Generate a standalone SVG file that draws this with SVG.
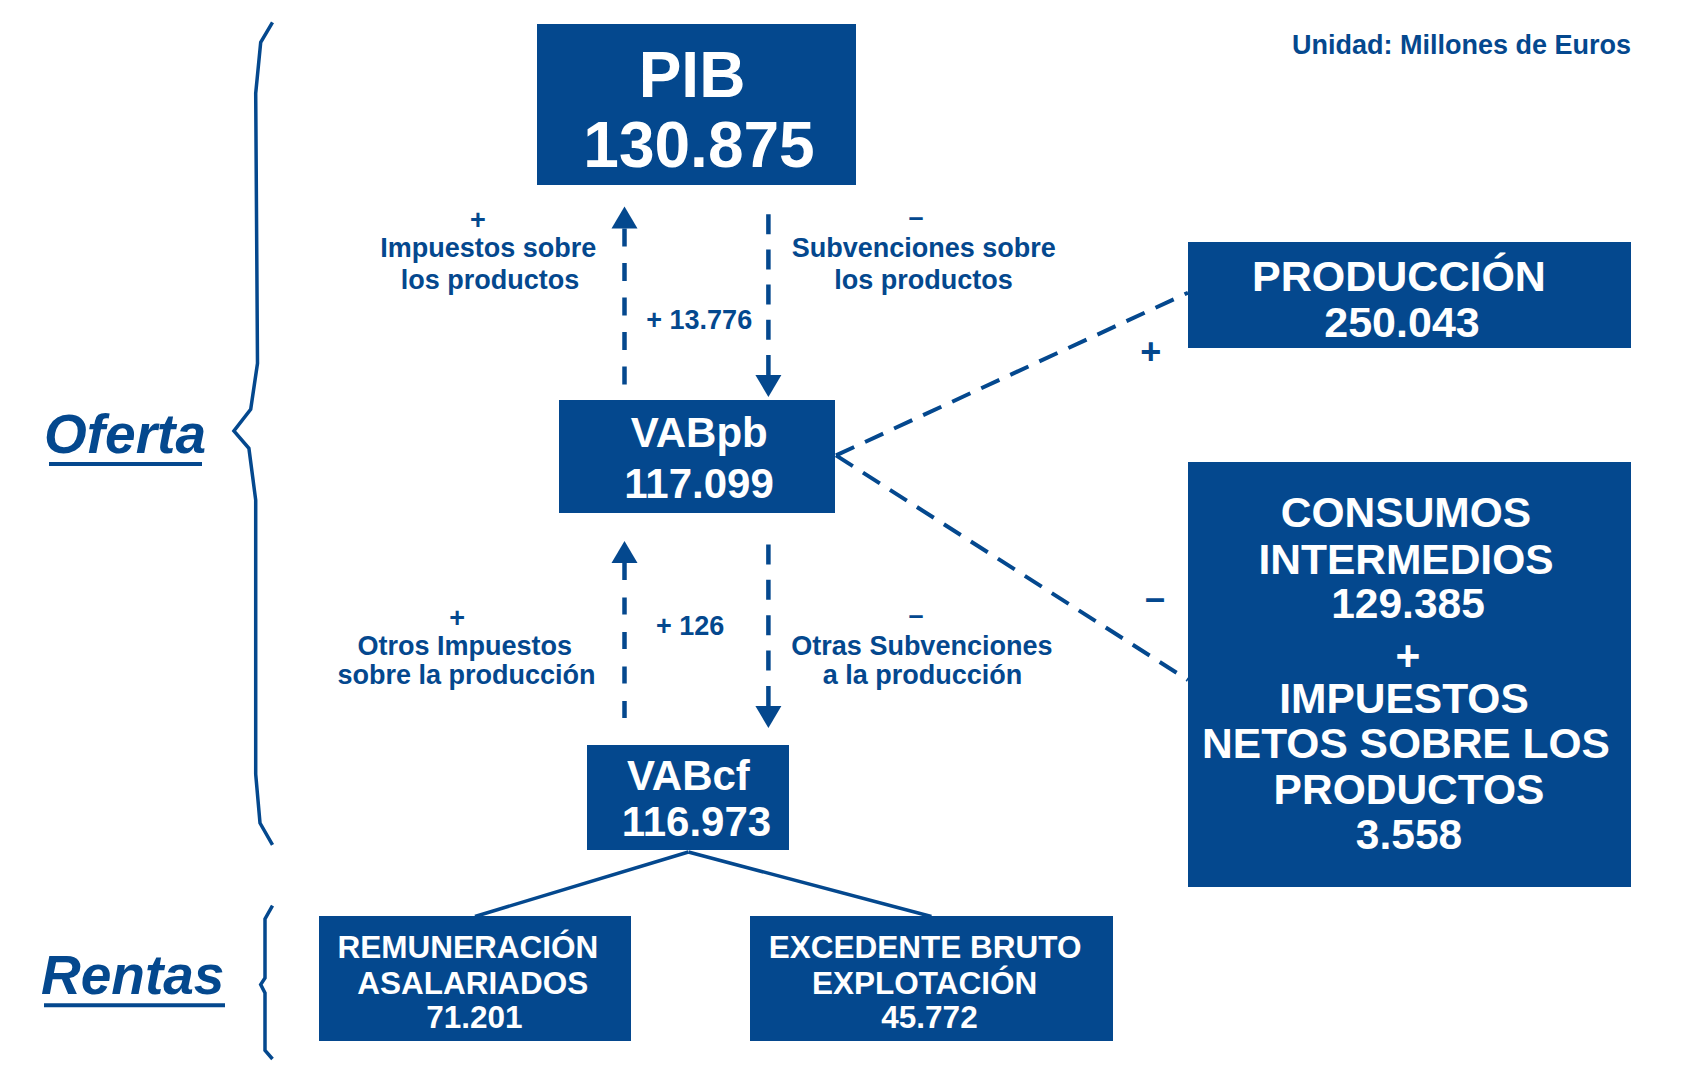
<svg xmlns="http://www.w3.org/2000/svg" width="1681" height="1089" viewBox="0 0 1681 1089">
<style>
.box{fill:#04488e}
.nt{font-family:"Liberation Sans",Arial,Helvetica,sans-serif;font-weight:bold;fill:#fff;text-anchor:middle}
.lbl{font-family:"Liberation Sans",Arial,Helvetica,sans-serif;font-weight:bold;fill:#04488e;text-anchor:middle;font-size:27px}
.big{font-family:"Liberation Sans",Arial,Helvetica,sans-serif;font-weight:bold;font-style:italic;fill:#04488e;font-size:55px}
.dash{fill:none;stroke:#04488e;stroke-width:4.5}
.diag{fill:none;stroke:#04488e;stroke-width:4;stroke-dasharray:20 12}
.solid{fill:none;stroke:#04488e;stroke-width:3.5}
.brace{fill:none;stroke:#04488e;stroke-width:3.5;stroke-linejoin:miter}
.ul{stroke:#04488e;stroke-width:4}
</style>
<defs>
<marker id="ah" markerUnits="userSpaceOnUse" viewBox="0 -15 24 30" markerWidth="24" markerHeight="30" refX="0" refY="0" orient="auto-start-reverse">
<path d="M0,-13 L22,0 L0,13 z" fill="#04488e"/>
</marker>
</defs>
<rect width="1681" height="1089" fill="#fff"/>

<text class="lbl" x="1631" y="54" style="text-anchor:end">Unidad: Millones de Euros</text>

<g id="braces">
<path class="brace" d="M272.5,22.3 L260.7,42.3 L255.7,93.3 L257.5,363.3 L250.7,409.3 L233.9,431 L248.9,448.3 L255.7,500 L255.7,774.2 L260,823 L272.5,844.9"/>
<path class="brace" d="M272.5,905.7 L265,918.9 L265,978 L260.7,984.5 L265,993 L265,1050.3 L272.5,1059"/>
<text class="big" x="44" y="453">Oferta</text>
<line class="ul" x1="49" y1="464" x2="202" y2="464"/>
<text class="big" x="41" y="994">Rentas</text>
<line class="ul" x1="44" y1="1005.3" x2="225" y2="1005.3"/>
</g>

<g id="connectors">
<path class="dash" d="M624.5,228.6 L624.5,384.6" stroke-dasharray="18 16.5" marker-start="url(#ah)"/>
<path class="dash" d="M768.4,375 L768.4,214.3" stroke-dasharray="20 15.2" marker-start="url(#ah)"/>
<path class="dash" d="M624.5,563 L624.5,719.8" stroke-dasharray="17 17.5" marker-start="url(#ah)"/>
<path class="dash" d="M768.4,706 L768.4,544.3" stroke-dasharray="20 15.4" marker-start="url(#ah)"/>
<path class="diag" d="M836,455.4 L1188,292.7"/>
<path class="diag" d="M836,455.4 L1188,680"/>
<path class="solid" d="M688.4,852 L475,916.5"/>
<path class="solid" d="M688.4,852 L931.4,916.5"/>
</g>

<g id="labels">
<text class="lbl" x="478" y="229">+</text>
<text class="lbl" x="488.3" y="256.5">Impuestos sobre</text>
<text class="lbl" x="490" y="289">los productos</text>
<text class="lbl" x="916" y="225.5">–</text>
<text class="lbl" x="923.7" y="256.5">Subvenciones sobre</text>
<text class="lbl" x="923.4" y="289">los productos</text>
<text class="lbl" x="646.3" y="329.3" style="text-anchor:start">+ 13.776</text>
<text class="lbl" x="655.9" y="634.5" style="text-anchor:start">+ 126</text>
<text class="lbl" x="457.1" y="626.5">+</text>
<text class="lbl" x="464.8" y="655">Otros Impuestos</text>
<text class="lbl" x="466.4" y="684">sobre la producción</text>
<text class="lbl" x="916" y="624">–</text>
<text class="lbl" x="921.9" y="655">Otras Subvenciones</text>
<text class="lbl" x="922.5" y="684">a la producción</text>
<text class="lbl" x="1150.8" y="364.4" style="font-size:36px">+</text>
<text class="lbl" x="1155" y="609.9" style="font-size:36px">–</text>
</g>

<g id="node-pib">
<rect class="box" x="537" y="24" width="319" height="161"/>
<text class="nt" x="692" y="97" font-size="64">PIB</text>
<text class="nt" x="699" y="167" font-size="64">130.875</text>
</g>

<g id="node-vabpb">
<rect class="box" x="559" y="400" width="276" height="113"/>
<text class="nt" x="699.3" y="447" font-size="42">VABpb</text>
<text class="nt" x="699" y="498" font-size="42">117.099</text>
</g>

<g id="node-vabcf">
<rect class="box" x="587" y="745" width="202" height="105"/>
<text class="nt" x="688.4" y="790.4" font-size="42">VABcf</text>
<text class="nt" x="696.4" y="835.5" font-size="42">116.973</text>
</g>

<g id="node-produccion">
<rect class="box" x="1188" y="242" width="443" height="106"/>
<text class="nt" x="1399" y="291" font-size="43">PRODUCCIÓN</text>
<text class="nt" x="1402" y="337.3" font-size="43">250.043</text>
</g>

<g id="node-consumos">
<rect class="box" x="1188" y="462" width="443" height="425"/>
<g font-size="42.5">
<text class="nt" x="1406" y="527.3">CONSUMOS</text>
<text class="nt" x="1406" y="574">INTERMEDIOS</text>
<text class="nt" x="1408" y="618.3">129.385</text>
<text class="nt" x="1408" y="670">+</text>
<text class="nt" x="1404" y="712.7">IMPUESTOS</text>
<text class="nt" x="1406" y="758.3">NETOS SOBRE LOS</text>
<text class="nt" x="1409" y="804">PRODUCTOS</text>
<text class="nt" x="1409" y="849.3">3.558</text>
</g>
</g>

<g id="node-remuneracion">
<rect class="box" x="319" y="916" width="312" height="125"/>
<g font-size="31.5">
<text class="nt" x="468" y="957.5">REMUNERACIÓN</text>
<text class="nt" x="472.8" y="994.4">ASALARIADOS</text>
<text class="nt" x="474.4" y="1027.8">71.201</text>
</g>
</g>

<g id="node-excedente">
<rect class="box" x="750" y="916" width="363" height="125"/>
<g font-size="31.5">
<text class="nt" x="925.2" y="957.5">EXCEDENTE BRUTO</text>
<text class="nt" x="924.7" y="994.4">EXPLOTACIÓN</text>
<text class="nt" x="929.5" y="1027.8">45.772</text>
</g>
</g>
</svg>
